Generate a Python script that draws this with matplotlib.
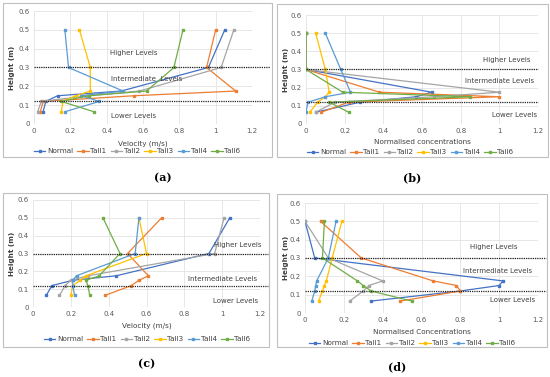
import matplotlib
matplotlib.use('Agg')
import matplotlib.pyplot as plt
from matplotlib.patches import Rectangle

# heights of the measuring points (m)
heights = [0.5, 0.3, 0.175, 0.15, 0.12, 0.065]
series = ['Normal', 'Tall1', 'Tall2', 'Tall3', 'Tall4', 'Tall6']
colors = ['#4472C4', '#ED7D31', '#A5A5A5', '#FFC000', '#5B9BD5', '#70AD47']

# (a) velocity
vel_a_normal = [1.05, 0.96, 0.48, 0.13, 0.065, 0.05]
vel_a_tall1 = [1.00, 0.95, 1.11, 0.55, 0.05, 0.035]
vel_a_tall2 = [1.10, 1.03, 0.58, 0.30, 0.04, 0.02]
vel_a_tall3 = [0.25, 0.31, 0.31, 0.23, 0.16, 0.15]
vel_a_tall4 = [0.17, 0.19, 0.49, 0.26, 0.36, 0.17]
vel_a_tall6 = [0.82, 0.77, 0.62, 0.30, 0.15, 0.33]

# (b) normalised concentrations
conc_b_normal = [0.0, 0.0, 0.65, 0.57, 0.28, 0.05]
conc_b_tall1 = [0.0, 0.0, 0.38, 1.00, 0.22, 0.08]
conc_b_tall2 = [0.0, 0.0, 1.00, 0.66, 0.15, 0.05]
conc_b_tall3 = [0.05, 0.10, 0.12, 0.10, 0.06, 0.02]
conc_b_tall4 = [0.10, 0.18, 0.23, 0.10, 0.01, 0.0]
conc_b_tall6 = [0.0, 0.0, 0.19, 0.85, 0.12, 0.22]

# (c) velocity
vel_c_normal = [1.04, 0.93, 0.44, 0.21, 0.10, 0.07]
vel_c_tall1 = [0.68, 0.50, 0.61, 0.56, 0.52, 0.38]
vel_c_tall2 = [1.01, 0.96, 0.29, 0.20, 0.17, 0.14]
vel_c_tall3 = [0.56, 0.60, 0.28, 0.25, 0.21, 0.20]
vel_c_tall4 = [0.56, 0.54, 0.23, 0.21, 0.21, 0.22]
vel_c_tall6 = [0.37, 0.46, 0.35, 0.28, 0.29, 0.30]

# (d) normalised concentrations
conc_d_normal = [0.0, 0.05, 1.02, 1.00, 0.80, 0.34]
conc_d_tall1 = [0.08, 0.29, 0.66, 0.78, 0.80, 0.49]
conc_d_tall2 = [0.0, 0.12, 0.40, 0.33, 0.30, 0.23]
conc_d_tall3 = [0.19, 0.14, 0.11, 0.10, 0.09, 0.07]
conc_d_tall4 = [0.16, 0.12, 0.06, 0.055, 0.05, 0.035]
conc_d_tall6 = [0.10, 0.09, 0.27, 0.30, 0.34, 0.55]

W, H = 550, 377
fig = plt.figure(figsize=(5.5, 3.77), dpi=100)

def fx(px):
    return px / W

def fy(py):
    return 1 - py / H

def panel(ax_px, box_px, data, xlabel, xlab_y, leg_y, leg_x, ext, texts, tag, tag_xy):
    x0, y0, x1, y1 = ax_px
    bx0, by0, bx1, by1 = box_px
    fig.patches.append(Rectangle((fx(bx0), fy(by1)), fx(bx1 - bx0), (by1 - by0) / H,
                                 transform=fig.transFigure, fill=False,
                                 edgecolor='#BFBFBF', linewidth=0.8))
    ax = fig.add_axes([fx(x0), fy(y1), fx(x1 - x0), (y1 - y0) / H])
    for name, vals, c in zip(series, data, colors):
        ax.plot(vals, heights, color=c, linewidth=0.9, marker='s', markersize=1.6,
                label=name)
    ax.set_xlim(0, 1.2)
    ax.set_ylim(0, 0.6)
    ax.set_xticks([0, 0.2, 0.4, 0.6, 0.8, 1, 1.2])
    ax.set_xticklabels(['0', '0.2', '0.4', '0.6', '0.8', '1', '1.2'])
    ax.set_yticks([0, 0.1, 0.2, 0.3, 0.4, 0.5, 0.6])
    ax.set_yticklabels(['0', '0.1', '0.2', '0.3', '0.4', '0.5', '0.6'])
    ax.tick_params(labelsize=5, length=0, pad=3, colors='#595959')
    ax.grid(True, color='#E3E3E3', linewidth=0.6)
    ax.set_axisbelow(True)
    for s in ax.spines.values():
        s.set_visible(False)
    for yl in [0.3, 0.12]:
        ax.plot([0, ext], [yl, yl], transform=ax.get_yaxis_transform(),
                color='#262626', linestyle=(0, (1, 0.8)), linewidth=0.9, clip_on=False)
    for tx, ty, s in texts:
        ax.text(tx, ty, s, fontsize=5, color='#404040', ha='center', va='center',
                clip_on=False)
    fig.text(fx((x0 + x1) / 2), fy(xlab_y), xlabel, fontsize=5.2, color='#404040',
             ha='center', va='center')
    fig.text(fx(bx0 + 9), fy((y0 + y1) / 2), 'Height (m)', fontsize=5.2, color='#404040',
             ha='center', va='center', rotation=90, fontweight='bold')
    fig.legend(*ax.get_legend_handles_labels(), loc='center', ncol=6,
               bbox_to_anchor=(fx(leg_x), fy(leg_y)), frameon=False, fontsize=5.2,
               handlelength=1.6, columnspacing=0.6, handletextpad=0.2,
               labelcolor='#404040')
    fig.text(fx(tag_xy[0]), fy(tag_xy[1]), tag, fontsize=8, family='DejaVu Serif',
             fontweight='bold', ha='center', va='center')
    return ax

panel((34, 11, 252, 124), (3, 3, 272, 157),
      [vel_a_normal, vel_a_tall1, vel_a_tall2, vel_a_tall3, vel_a_tall4, vel_a_tall6],
      'Velocity (m/s)', 144, 151, 137, 1.083,
      [(0.55, 0.375, 'Higher Levels'), (0.62, 0.24, 'Intermediate  Levels'),
       (0.55, 0.045, 'Lower Levels')], '(a)', (163, 178))

panel((306, 15, 538, 124), (277, 4, 548, 157),
      [conc_b_normal, conc_b_tall1, conc_b_tall2, conc_b_tall3, conc_b_tall4, conc_b_tall6],
      'Normalised concentrations', 142, 152, 410, 1.0,
      [(1.04, 0.355, 'Higher Levels'), (1.0, 0.235, 'Intermediate Levels'),
       (1.08, 0.05, 'Lower Levels')], '(b)', (412, 178))

panel((33, 200, 260, 307), (3, 193, 269, 347),
      [vel_c_normal, vel_c_tall1, vel_c_tall2, vel_c_tall3, vel_c_tall4, vel_c_tall6],
      'Velocity (m/s)', 326, 339, 147, 1.035,
      [(1.08, 0.345, 'Higher Levels'), (1.0, 0.155, 'Intermediate Levels'),
       (1.07, 0.035, 'Lower Levels')], '(c)', (147, 364))

panel((305, 203, 538, 313), (277, 194, 547, 347),
      [conc_d_normal, conc_d_tall1, conc_d_tall2, conc_d_tall3, conc_d_tall4, conc_d_tall6],
      'Normalised Concentrations', 332, 343, 412, 1.036,
      [(0.97, 0.36, 'Higher Levels'), (0.99, 0.23, 'Intermediate Levels'),
       (1.07, 0.07, 'Lower Levels')], '(d)', (397, 367))

fig.savefig('out.png', dpi=100)
